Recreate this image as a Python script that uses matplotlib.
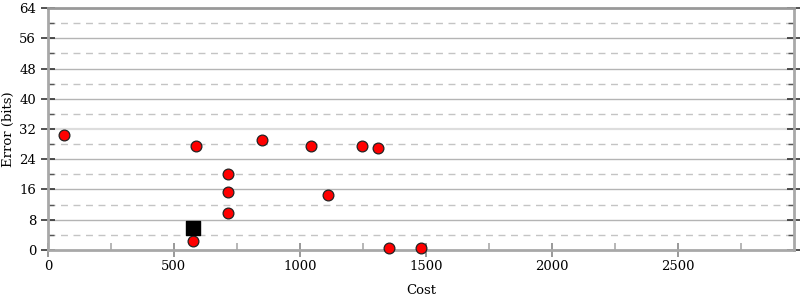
import matplotlib
matplotlib.use('Agg')
import matplotlib.pyplot as plt
from matplotlib.ticker import MultipleLocator

# data
cost = [65, 586, 848, 713, 713, 713, 577, 1045, 1246, 1310, 1110, 1353, 1481]
error = [30.3, 27.6, 29.0, 20.2, 15.4, 9.9, 2.5, 27.5, 27.6, 27.0, 14.5, 0.6, 0.6]
best_cost = [577]
best_error = [5.7]

plt.rcParams['font.family'] = 'DejaVu Serif'
plt.rcParams['font.size'] = 9.5

fig = plt.figure(figsize=(8, 3), dpi=100)
ax = fig.add_axes([0.06, 0.1667, 0.9325, 0.8066])

ax.set_xlim(0, 2962)
ax.set_ylim(0, 64)

# grid: solid at major, dashed at minor
for y in range(8, 64, 8):
    if y == 32:
        ax.axhline(y, color='#dddddd', lw=1.6, zorder=0)
    else:
        ax.axhline(y, color='#b4b4b4', lw=1.0, zorder=0)
for y in range(4, 64, 8):
    ax.axhline(y, color='#c4c4c4', lw=1.0, ls=(0, (5, 4)), zorder=0)

ax.scatter(cost, error, s=60, c='#ff0000', edgecolors='#222222', linewidths=0.9, zorder=3, clip_on=False)
ax.scatter(best_cost, best_error, s=95, c='black', marker='s', zorder=3, clip_on=False)

ax.xaxis.set_major_locator(MultipleLocator(500))
ax.xaxis.set_minor_locator(MultipleLocator(250))
ax.yaxis.set_major_locator(MultipleLocator(8))
ax.yaxis.set_minor_locator(MultipleLocator(4))

for side in ['left', 'right', 'bottom']:
    ax.spines[side].set_color('#a8a8a8')
    ax.spines[side].set_linewidth(2)
ax.spines['top'].set_color('#999999')
ax.spines['top'].set_linewidth(2)

ax.tick_params(axis='x', which='major', direction='inout', length=10, width=1.2, color='#888888', pad=2)
ax.tick_params(axis='x', which='minor', direction='in', length=5, width=1.2, color='#aaaaaa')
ax.tick_params(axis='y', which='major', direction='inout', length=10, width=1.2, color='#333333',
               right=True)
ax.tick_params(axis='y', which='minor', direction='in', length=4, width=1.0, color='#555555',
               right=True)

ax.set_xlabel('Cost', labelpad=8)
ax.set_ylabel('Error (bits)', labelpad=3)

fig.savefig('out.png', dpi=100)
